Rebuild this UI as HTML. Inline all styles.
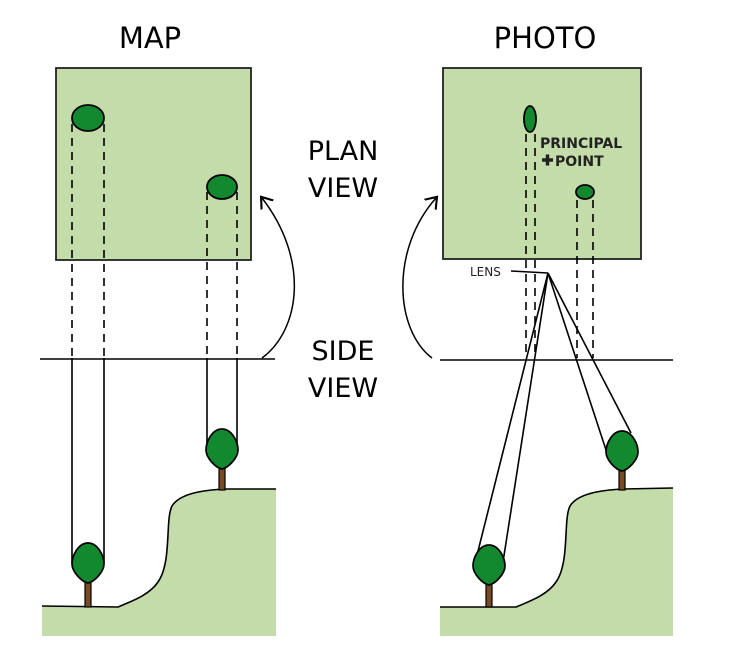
<!DOCTYPE html>
<html><head><style>body{margin:0;background:#fff}svg{display:block}</style></head><body>
<svg width="738" height="671" viewBox="0 0 738 671" xmlns="http://www.w3.org/2000/svg" font-family="'DejaVu Sans','Liberation Sans',sans-serif">
<defs><marker id="ah" markerWidth="12" markerHeight="12" refX="6" refY="6" orient="auto"><path d="M0,1 L7,6 L0,11" fill="none" stroke="#000" stroke-width="1.4"/></marker></defs>
<text x="150" y="48" font-size="29" text-anchor="middle">MAP</text>
<text x="545" y="48" font-size="29" text-anchor="middle">PHOTO</text>
<text x="343" y="160" font-size="27" text-anchor="middle">PLAN</text>
<text x="343" y="197" font-size="27" text-anchor="middle">VIEW</text>
<text x="343" y="360" font-size="27" text-anchor="middle">SIDE</text>
<text x="343" y="397" font-size="27" text-anchor="middle">VIEW</text>
<rect x="56" y="68" width="195" height="192" fill="#c3dcaa" stroke="#222" stroke-width="1.8"/>
<rect x="443" y="68" width="198" height="191" fill="#c3dcaa" stroke="#222" stroke-width="1.8"/>
<g stroke="#000" stroke-width="1.6" stroke-dasharray="8,6">
<line x1="72" y1="124" x2="72" y2="358"/><line x1="104" y1="124" x2="104" y2="358"/>
<line x1="207" y1="192" x2="207" y2="358"/><line x1="237" y1="192" x2="237" y2="358"/>
<line x1="526" y1="134" x2="526" y2="358"/><line x1="535" y1="134" x2="535" y2="358"/>
<line x1="577" y1="200" x2="577" y2="358"/><line x1="593" y1="200" x2="593" y2="358"/>
</g>
<ellipse cx="88" cy="118" rx="16" ry="13" fill="#12892e" stroke="#000" stroke-width="1.8"/>
<ellipse cx="222" cy="187" rx="15" ry="12" fill="#12892e" stroke="#000" stroke-width="1.8"/>
<ellipse cx="530" cy="119" rx="6" ry="13" fill="#12892e" stroke="#000" stroke-width="1.8"/>
<ellipse cx="585" cy="192" rx="9" ry="7" fill="#12892e" stroke="#000" stroke-width="1.8"/>
<g stroke="#000" stroke-width="1.6">
<line x1="72" y1="358" x2="72" y2="563"/><line x1="104" y1="358" x2="104" y2="563"/>
<line x1="207" y1="358" x2="207" y2="450"/><line x1="237" y1="358" x2="237" y2="450"/>
<line x1="40" y1="359" x2="275" y2="359"/><line x1="440" y1="360" x2="673" y2="360"/>
<line x1="548" y1="273" x2="475" y2="563"/><line x1="548" y1="273" x2="503" y2="562"/>
<line x1="548" y1="273" x2="607" y2="453"/><line x1="548" y1="273" x2="631" y2="433"/>
<polyline points="511,271 548,273" fill="none"/>
</g>
<path d="M262,358 C300,330 310,260 262,198" fill="none" stroke="#000" stroke-width="1.5" marker-end="url(#ah)"/>
<path d="M432,358 C395,330 390,250 436,198" fill="none" stroke="#000" stroke-width="1.5" marker-end="url(#ah)"/>
<text x="540" y="148" font-size="14" font-weight="bold" fill="#222">PRINCIPAL</text>
<text x="555" y="166" font-size="14" font-weight="bold" fill="#222">POINT</text>
<path d="M542,160h11M547.5,154.5v11" stroke="#222" stroke-width="3.5"/>
<text x="470" y="276" font-size="12" fill="#222">LENS</text>
<path d="M42,606 L118,607 C135,600 150,594 158,582 C172,562 165,520 172,506 C180,493 205,490 225,489 L276,489 L276,636 L42,636 Z" fill="#c3dcaa"/>
<path d="M42,606 L118,607 C135,600 150,594 158,582 C172,562 165,520 172,506 C180,493 205,490 225,489 L276,489" fill="none" stroke="#000" stroke-width="1.6"/>
<path d="M440,607 L516,607 C533,600 548,594 556,582 C570,562 563,520 570,506 C578,493 603,490 623,489 L673,488 L673,636 L440,636 Z" fill="#c3dcaa"/>
<path d="M440,607 L516,607 C533,600 548,594 556,582 C570,562 563,520 570,506 C578,493 603,490 623,489 L673,488" fill="none" stroke="#000" stroke-width="1.6"/>
<g stroke="#000" stroke-width="1.2">
<rect x="85" y="575" width="6" height="32" fill="#7a4a25"/>
<rect x="219" y="462" width="6" height="28" fill="#7a4a25"/>
<rect x="486" y="577" width="6" height="30" fill="#7a4a25"/>
<rect x="619" y="463" width="6" height="27" fill="#7a4a25"/>
</g>
<g fill="#12892e" stroke="#000" stroke-width="1.7">
<path d="M88,543 C98,543 104,556 104,564 C104,572 94,582 88,583 C82,582 72,572 72,564 C72,556 78,543 88,543Z"/>
<path d="M222,429 C232,429 238,442 238,450 C238,458 228,468 222,469 C216,468 206,458 206,450 C206,442 212,429 222,429Z"/>
<path d="M489,545 C499,545 505,558 505,566 C505,574 495,584 489,585 C483,584 473,574 473,566 C473,558 479,545 489,545Z"/>
<path d="M622,431 C632,431 638,444 638,452 C638,460 628,470 622,471 C616,470 606,460 606,452 C606,444 612,431 622,431Z"/>
</g>
</svg>
</body></html>
